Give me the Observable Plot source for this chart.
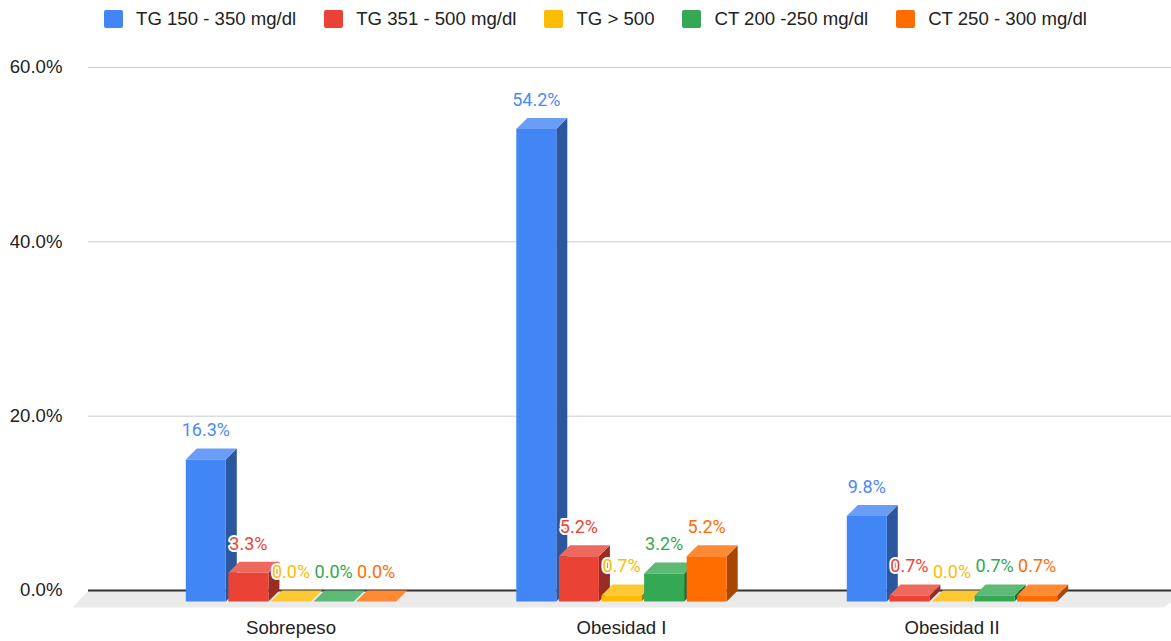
<!DOCTYPE html>
<html><head><meta charset="utf-8">
<script src="https://cdn.jsdelivr.net/npm/d3@7"></script>
<script src="https://cdn.jsdelivr.net/npm/@observablehq/plot@0.6"></script>
<style>
body{margin:0;background:#fff;font-family:"Liberation Sans",Arial,sans-serif;overflow:hidden}
#legend{height:38px;display:flex;align-items:center;justify-content:center;padding-left:20px;box-sizing:border-box;width:1171px}
.item{display:flex;align-items:center;margin:0 14px;font-size:18.6px;color:#222}
.sw{width:19px;height:18px;border-radius:2px;margin-right:13px}
</style></head><body>
<div id="legend"></div>
<div id="chart"></div>
<script>
// ---- data ----
const categories = ["Sobrepeso", "Obesidad I", "Obesidad II"];
const seriesNames = ["TG 150 - 350 mg/dl", "TG 351 - 500 mg/dl", "TG > 500", "CT 200 -250 mg/dl", "CT 250 - 300 mg/dl"];
const tg150_350 = [16.3, 54.2, 9.8];
const tg351_500 = [3.3, 5.2, 0.7];
const tgOver500 = [0.0, 0.7, 0.0];
const ct200_250 = [0.0, 3.2, 0.7];
const ct250_300 = [0.0, 5.2, 0.7];
const seriesValues = [tg150_350, tg351_500, tgOver500, ct200_250, ct250_300];
const yTicks = [0, 20, 40, 60];

// ---- styles ----
const frontColors = ["#4285F4", "#EA4335", "#FBBC04", "#34A853", "#FF6D01"];
const topColors   = ["#6A9DF6", "#EE695D", "#FCC934", "#5DB975", "#FF8A34"];
const sideColors  = ["#2B579F", "#992C23", "#A57B03", "#226E36", "#A84701"];
const labelColors = ["#4A8AF4", "#EA4335", "#FBBC04", "#34A853", "#FF6D01"];

// ---- layout ----
const W = 1171, H = 603, mL = 88, mR = 0, mT = 29, mB = 51;
const pxPerY = (H - mT - mB) / 60;
const stepPx = 330.5, firstCenterPx = 290.5, barPitch = 42.6, barW = 40, depth = 11, floorDepth = 17, floorSlant = 16;
const xDomain = [0.5 - (firstCenterPx - mL) / stepPx, 0.5 + (W - mR - firstCenterPx) / stepPx];
const dX = depth / stepPx, dY = depth / pxPerY;

// legend
const legend = document.getElementById("legend");
seriesNames.forEach((s, i) => {
  const it = document.createElement("div"); it.className = "item";
  const sw = document.createElement("div"); sw.className = "sw"; sw.style.background = frontColors[i];
  const t = document.createElement("span"); t.textContent = s;
  it.appendChild(sw); it.appendChild(t); legend.appendChild(it);
});

// polygons
const polys = [];
const labels = [];
categories.forEach((cat, c) => {
  seriesValues.forEach((vals, i) => {
    const v = vals[c];
    const xc = c + 0.5 + (i - 2) * barPitch / stepPx;
    const x0 = xc - barW / 2 / stepPx, x1 = xc + barW / 2 / stepPx;
    const f0 = -dY, ft = v - dY;
    const id = `${c}-${i}`;
    [[x1, f0], [x1, ft], [x1 + dX, v], [x1 + dX, 0]].forEach(([x, y]) => polys.push({id: id + "s", x, y, color: sideColors[i]}));
    [[x0, ft], [x1, ft], [x1 + dX, v], [x0 + dX, v]].forEach(([x, y]) => polys.push({id: id + "t", x, y, color: topColors[i]}));
    [[x0, f0], [x1, f0], [x1, ft], [x0, ft]].forEach(([x, y]) => polys.push({id: id + "f", x, y, color: frontColors[i]}));
    labels.push({x: xc, y: v, text: v.toFixed(1) + "%", color: labelColors[i]});
  });
});

const fy = floorDepth / pxPerY, fx = floorSlant / stepPx;
const floor = [
  {x: xDomain[0], y: 0}, {x: xDomain[1] + fx, y: 0},
  {x: xDomain[1] - 0.5 * fx, y: -fy}, {x: xDomain[0] - fx, y: -fy}
];

const plot = Plot.plot({
  width: W, height: H,
  marginLeft: mL, marginRight: mR, marginTop: mT, marginBottom: mB,
  style: {fontFamily: "'Liberation Sans', Arial, sans-serif", fontSize: "18.6px", color: "#222", background: "#fff", overflow: "visible"},
  x: {type: "linear", domain: xDomain, label: null},
  y: {domain: [0, 60], label: null},
  color: {type: "identity"},
  marks: [
    Plot.line(floor, {x: "x", y: "y", fill: "#ebebeb", stroke: "none"}),
    Plot.ruleY(yTicks.filter(t => t > 0), {stroke: "#cccccc", strokeWidth: 1}),
    Plot.ruleY([0], {stroke: "#333333", strokeWidth: 1.8}),
    Plot.axisY(yTicks, {tickSize: 0, tickPadding: 26, tickFormat: d => d.toFixed(1) + "%", label: null}),
    Plot.axisX([0.5, 1.5, 2.5], {tickSize: 0, tickPadding: 30, tickFormat: d => categories[Math.floor(d)], label: null}),
    Plot.line(polys, {x: "x", y: "y", z: "id", fill: "color", stroke: "none"}),
    Plot.text(labels, {x: "x", y: "y", text: "text", fill: "color", dy: -18, stroke: "white", strokeWidth: 4, strokeLinejoin: "round", paintOrder: "stroke", fontFamily: "Roboto", fontSize: 18})
  ]
});
document.getElementById("chart").appendChild(plot);
</script>
</body></html>
